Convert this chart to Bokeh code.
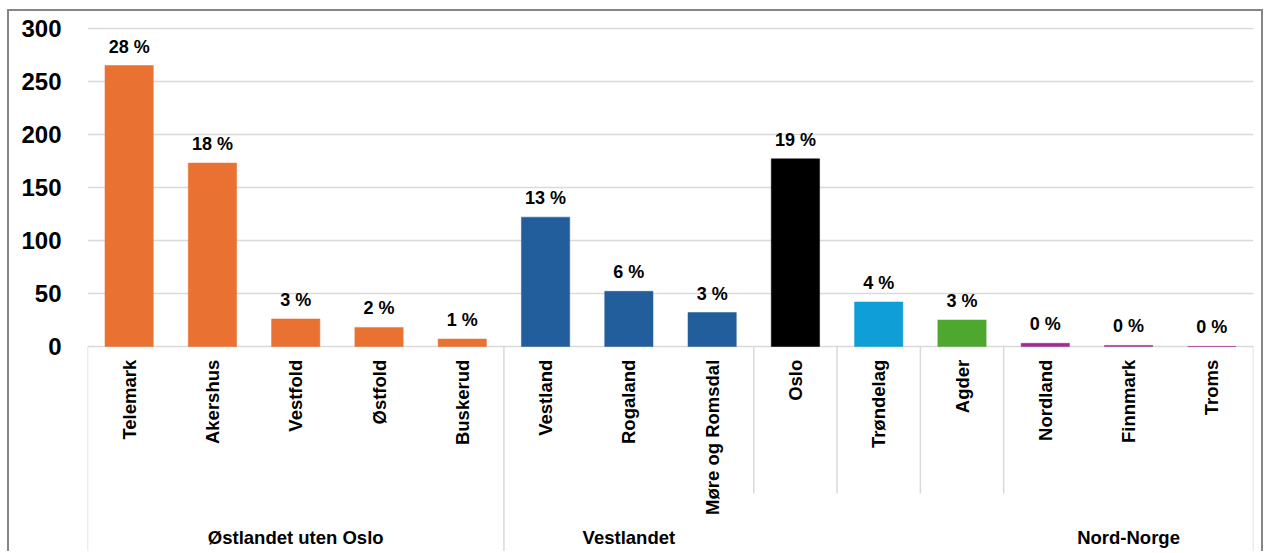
import math
from bokeh.plotting import figure
from bokeh.models import ColumnDataSource, FixedTicker, Range1d
from bokeh.embed import file_html
from bokeh.resources import INLINE
from bokeh.core.properties import value

# ---- data ----
regions = ["Telemark", "Akershus", "Vestfold", "Østfold", "Buskerud",
           "Vestland", "Rogaland", "Møre og Romsdal", "Oslo", "Trøndelag",
           "Agder", "Nordland", "Finnmark", "Troms"]
counts = [265, 173, 26, 18, 7, 122, 52, 32, 177, 42, 25, 3, 1, 0]
pct_labels = ["28 %", "18 %", "3 %", "2 %", "1 %", "13 %", "6 %", "3 %",
              "19 %", "4 %", "3 %", "0 %", "0 %", "0 %"]
groups = ["Østlandet uten Oslo", "Vestlandet", "", "", "", "Nord-Norge"]
group_sizes = [5, 3, 1, 1, 1, 3]
group_colors = ["#E97132", "#235E9C", "#000000", "#0F9ED5", "#4EA72E", "#A02B93"]
y_ticks = [0, 50, 100, 150, 200, 250, 300]

FONT = value("Liberation Sans")

# ---- derived ----
xs = [i + 0.5 for i in range(len(regions))]
colors = []
for c, n in zip(group_colors, group_sizes):
    colors += [c] * n
bounds = [0]
for n in group_sizes:
    bounds.append(bounds[-1] + n)

Y_TOP = 309.4
Y_BOT = -195.3
Y_SHORT = -138.7
Y_CAT = -12.5
Y_GRP = -180.6

p = figure(width=1256, height=542, output_backend="svg", toolbar_location=None,
           x_range=Range1d(0, len(regions)), y_range=Range1d(Y_BOT, Y_TOP),
           x_axis_type=None, min_border_left=78, min_border_right=12,
           min_border_top=7, min_border_bottom=0)
p.styles = {"margin-left": "7px", "margin-top": "9px",
            "border-left": "2px solid #858585", "border-top": "2px solid #858585",
            "border-right": "2px solid #858585"}
p.outline_line_color = None
p.background_fill_color = "white"
p.border_fill_color = "white"

ax = p.yaxis[0]
ax.ticker = FixedTicker(ticks=y_ticks)
ax.axis_line_color = None
ax.major_tick_line_color = None
ax.minor_tick_line_color = None
ax.major_tick_out = 0
ax.major_tick_in = 0
ax.major_label_standoff = 26
ax.major_label_text_font = "Liberation Sans"
ax.major_label_text_font_style = "bold"
ax.major_label_text_font_size = "24px"
ax.major_label_text_color = "#000000"

p.ygrid.ticker = FixedTicker(ticks=y_ticks)
p.ygrid.grid_line_color = "#d9d9d9"
p.ygrid.grid_line_width = 1.5

# separators of category axis
long_sep = [True, True, False, False, False, False, True]
sep_src = ColumnDataSource(dict(
    x=bounds, y0=[0] * len(bounds),
    y1=[Y_BOT if l else Y_SHORT for l in long_sep]))
p.segment(x0="x", y0="y0", x1="x", y1="y1", source=sep_src,
          line_color="#d9d9d9", line_width=1.5)

src = ColumnDataSource(dict(x=xs, top=counts, color=colors, pct=pct_labels,
                            name=regions, ycat=[Y_CAT] * len(regions)))
p.vbar(x="x", top="top", bottom=0, width=0.58, fill_color="color",
       line_color="color", line_width=0.5, source=src)

p.text(x="x", y="top", text="pct", source=src, text_font=FONT,
       text_font_style="bold", text_font_size="18px", text_align="center",
       text_baseline="alphabetic", y_offset=-19, text_color="#000000")

p.text(x="x", y="ycat", text="name", source=src, text_font=FONT,
       text_font_style="bold", text_font_size="18.5px", text_align="right",
       text_baseline="middle", angle=math.pi / 2, text_color="#000000")

gx, gt = [], []
for name, a, b in zip(groups, bounds[:-1], bounds[1:]):
    if name:
        gx.append((a + b) / 2)
        gt.append(name)
p.text(x=gx, y=[Y_GRP] * len(gx), text=gt, text_font=FONT,
       text_font_style="bold", text_font_size="18.5px", text_align="center",
       text_baseline="alphabetic", text_color="#000000")

open("out.html", "w").write(file_html(p, INLINE))
